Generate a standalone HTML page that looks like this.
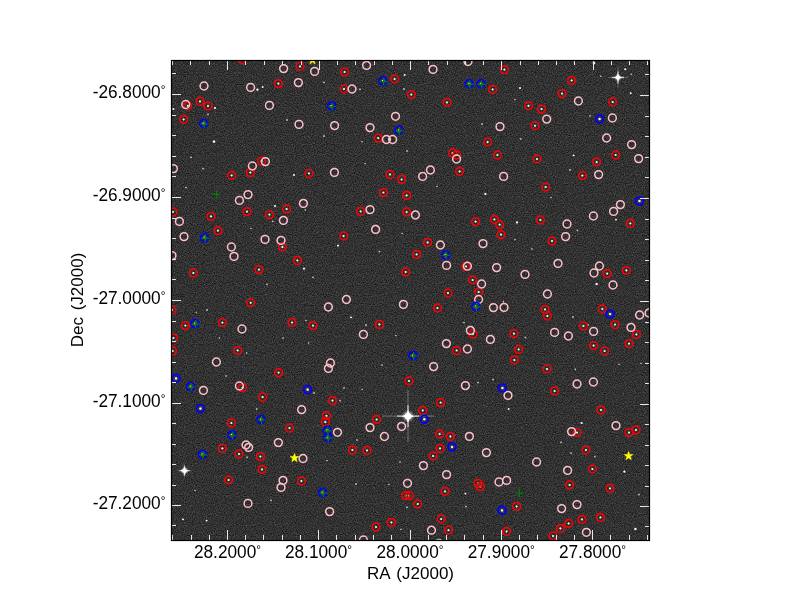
<!DOCTYPE html>
<html><head><meta charset="utf-8"><style>
html,body{margin:0;padding:0;background:#fff;width:800px;height:600px;overflow:hidden}
svg{display:block}
</style></head><body>
<svg width="800" height="600" viewBox="0 0 800 600">
<defs>
<clipPath id="ax"><rect x="171" y="60" width="479" height="480"/></clipPath>
<radialGradient id="sg"><stop offset="0" stop-color="#fff" stop-opacity="1"/><stop offset="0.45" stop-color="#fff" stop-opacity="0.75"/><stop offset="1" stop-color="#fff" stop-opacity="0"/></radialGradient>
<filter id="nz" x="0" y="0" width="100%" height="100%" color-interpolation-filters="sRGB">
<feTurbulence type="fractalNoise" baseFrequency="0.9" numOctaves="2" seed="7"/>
<feColorMatrix type="matrix" values="0.3729 0 0 0 0.0096  0.3729 0 0 0 0.0096  0.3729 0 0 0 0.0096  0 0 0 0 1"/>
</filter>
</defs>
<rect width="800" height="600" fill="#fff"/>
<rect x="171" y="60" width="479" height="480" fill="#333" filter="url(#nz)"/>
<g clip-path="url(#ax)">
<circle cx="214.0" cy="141.6" r="1.90" fill="url(#sg)" opacity="1.00"/><circle cx="214.0" cy="141.6" r="0.90" fill="#fff"/><circle cx="257.4" cy="89.6" r="1.68" fill="url(#sg)" opacity="0.90"/><circle cx="257.4" cy="89.6" r="0.81" fill="#fff"/><circle cx="262.6" cy="87.0" r="1.46" fill="url(#sg)" opacity="0.80"/><circle cx="262.6" cy="87.0" r="0.72" fill="#fff"/><circle cx="173.4" cy="109.0" r="1.57" fill="url(#sg)" opacity="0.85"/><circle cx="173.4" cy="109.0" r="0.77" fill="#fff"/><circle cx="215.0" cy="108.0" r="1.57" fill="url(#sg)" opacity="0.85"/><circle cx="215.0" cy="108.0" r="0.77" fill="#fff"/><circle cx="208.0" cy="114.4" r="1.35" fill="url(#sg)" opacity="0.75"/><circle cx="191.0" cy="157.4" r="1.35" fill="url(#sg)" opacity="0.75"/><circle cx="203.0" cy="168.6" r="1.35" fill="url(#sg)" opacity="0.75"/><circle cx="287.0" cy="120.0" r="1.35" fill="url(#sg)" opacity="0.75"/><circle cx="324.0" cy="82.4" r="1.35" fill="url(#sg)" opacity="0.75"/><circle cx="360.0" cy="89.4" r="1.35" fill="url(#sg)" opacity="0.75"/><circle cx="404.6" cy="75.0" r="1.46" fill="url(#sg)" opacity="0.80"/><circle cx="404.6" cy="75.0" r="0.72" fill="#fff"/><circle cx="404.0" cy="89.0" r="1.35" fill="url(#sg)" opacity="0.75"/><circle cx="324.0" cy="136.0" r="1.35" fill="url(#sg)" opacity="0.75"/><circle cx="294.0" cy="175.0" r="1.46" fill="url(#sg)" opacity="0.80"/><circle cx="294.0" cy="175.0" r="0.72" fill="#fff"/><circle cx="407.0" cy="151.0" r="1.35" fill="url(#sg)" opacity="0.75"/><circle cx="365.0" cy="163.6" r="1.24" fill="url(#sg)" opacity="0.70"/><circle cx="362.0" cy="141.6" r="1.24" fill="url(#sg)" opacity="0.70"/><circle cx="520.0" cy="88.0" r="1.46" fill="url(#sg)" opacity="0.80"/><circle cx="520.0" cy="88.0" r="0.72" fill="#fff"/><circle cx="482.0" cy="124.0" r="1.35" fill="url(#sg)" opacity="0.75"/><circle cx="520.6" cy="139.0" r="1.35" fill="url(#sg)" opacity="0.75"/><circle cx="515.0" cy="99.6" r="1.24" fill="url(#sg)" opacity="0.70"/><circle cx="594.0" cy="63.0" r="1.90" fill="url(#sg)" opacity="1.00"/><circle cx="594.0" cy="63.0" r="0.90" fill="#fff"/><circle cx="625.3" cy="69.3" r="1.57" fill="url(#sg)" opacity="0.85"/><circle cx="625.3" cy="69.3" r="0.77" fill="#fff"/><circle cx="630.7" cy="93.3" r="1.46" fill="url(#sg)" opacity="0.80"/><circle cx="630.7" cy="93.3" r="0.72" fill="#fff"/><circle cx="631.3" cy="74.3" r="1.24" fill="url(#sg)" opacity="0.70"/><circle cx="600.7" cy="76.3" r="1.24" fill="url(#sg)" opacity="0.70"/><circle cx="573.6" cy="155.4" r="1.46" fill="url(#sg)" opacity="0.80"/><circle cx="573.6" cy="155.4" r="0.72" fill="#fff"/><circle cx="570.0" cy="170.0" r="1.35" fill="url(#sg)" opacity="0.75"/><circle cx="590.0" cy="116.0" r="1.24" fill="url(#sg)" opacity="0.70"/><circle cx="186.0" cy="187.6" r="1.35" fill="url(#sg)" opacity="0.75"/><circle cx="275.0" cy="206.0" r="1.57" fill="url(#sg)" opacity="0.85"/><circle cx="275.0" cy="206.0" r="0.77" fill="#fff"/><circle cx="272.6" cy="221.4" r="1.35" fill="url(#sg)" opacity="0.75"/><circle cx="267.0" cy="284.4" r="1.35" fill="url(#sg)" opacity="0.75"/><circle cx="251.0" cy="228.4" r="1.24" fill="url(#sg)" opacity="0.70"/><circle cx="338.0" cy="245.6" r="1.57" fill="url(#sg)" opacity="0.85"/><circle cx="338.0" cy="245.6" r="0.77" fill="#fff"/><circle cx="304.0" cy="268.6" r="1.57" fill="url(#sg)" opacity="0.85"/><circle cx="304.0" cy="268.6" r="0.77" fill="#fff"/><circle cx="379.4" cy="251.6" r="1.35" fill="url(#sg)" opacity="0.75"/><circle cx="313.0" cy="277.4" r="1.35" fill="url(#sg)" opacity="0.75"/><circle cx="402.0" cy="233.4" r="1.24" fill="url(#sg)" opacity="0.70"/><circle cx="305.4" cy="210.0" r="1.24" fill="url(#sg)" opacity="0.70"/><circle cx="485.4" cy="194.0" r="1.68" fill="url(#sg)" opacity="0.90"/><circle cx="485.4" cy="194.0" r="0.81" fill="#fff"/><circle cx="517.0" cy="222.4" r="1.68" fill="url(#sg)" opacity="0.90"/><circle cx="517.0" cy="222.4" r="0.81" fill="#fff"/><circle cx="437.0" cy="186.4" r="1.24" fill="url(#sg)" opacity="0.70"/><circle cx="515.0" cy="239.6" r="1.24" fill="url(#sg)" opacity="0.70"/><circle cx="596.6" cy="284.0" r="1.79" fill="url(#sg)" opacity="0.95"/><circle cx="596.6" cy="284.0" r="0.85" fill="#fff"/><circle cx="616.0" cy="219.6" r="1.46" fill="url(#sg)" opacity="0.80"/><circle cx="616.0" cy="219.6" r="0.72" fill="#fff"/><circle cx="577.4" cy="230.4" r="1.35" fill="url(#sg)" opacity="0.75"/><circle cx="551.0" cy="197.6" r="1.24" fill="url(#sg)" opacity="0.70"/><circle cx="532.0" cy="249.0" r="1.24" fill="url(#sg)" opacity="0.70"/><circle cx="207.0" cy="310.0" r="1.35" fill="url(#sg)" opacity="0.75"/><circle cx="196.4" cy="312.4" r="1.24" fill="url(#sg)" opacity="0.70"/><circle cx="219.4" cy="338.0" r="1.24" fill="url(#sg)" opacity="0.70"/><circle cx="226.0" cy="376.0" r="1.24" fill="url(#sg)" opacity="0.70"/><circle cx="256.6" cy="409.0" r="1.35" fill="url(#sg)" opacity="0.75"/><circle cx="283.0" cy="338.0" r="1.24" fill="url(#sg)" opacity="0.70"/><circle cx="246.6" cy="353.0" r="1.24" fill="url(#sg)" opacity="0.70"/><circle cx="351.0" cy="317.4" r="1.46" fill="url(#sg)" opacity="0.80"/><circle cx="351.0" cy="317.4" r="0.72" fill="#fff"/><circle cx="366.0" cy="325.0" r="1.35" fill="url(#sg)" opacity="0.75"/><circle cx="306.0" cy="320.6" r="1.24" fill="url(#sg)" opacity="0.70"/><circle cx="308.6" cy="343.0" r="1.24" fill="url(#sg)" opacity="0.70"/><circle cx="396.0" cy="335.6" r="1.24" fill="url(#sg)" opacity="0.70"/><circle cx="382.0" cy="365.0" r="1.24" fill="url(#sg)" opacity="0.70"/><circle cx="314.0" cy="393.0" r="1.35" fill="url(#sg)" opacity="0.75"/><circle cx="340.0" cy="400.6" r="1.35" fill="url(#sg)" opacity="0.75"/><circle cx="344.0" cy="388.0" r="1.24" fill="url(#sg)" opacity="0.70"/><circle cx="362.0" cy="389.4" r="1.24" fill="url(#sg)" opacity="0.70"/><circle cx="464.0" cy="322.6" r="1.35" fill="url(#sg)" opacity="0.75"/><circle cx="525.4" cy="337.6" r="1.35" fill="url(#sg)" opacity="0.75"/><circle cx="493.0" cy="379.6" r="1.35" fill="url(#sg)" opacity="0.75"/><circle cx="478.0" cy="382.6" r="1.35" fill="url(#sg)" opacity="0.75"/><circle cx="508.6" cy="409.0" r="1.46" fill="url(#sg)" opacity="0.80"/><circle cx="508.6" cy="409.0" r="0.72" fill="#fff"/><circle cx="503.4" cy="301.6" r="1.35" fill="url(#sg)" opacity="0.75"/><circle cx="573.0" cy="317.0" r="1.35" fill="url(#sg)" opacity="0.75"/><circle cx="588.0" cy="325.0" r="1.35" fill="url(#sg)" opacity="0.75"/><circle cx="575.4" cy="369.4" r="1.35" fill="url(#sg)" opacity="0.75"/><circle cx="619.0" cy="364.4" r="1.24" fill="url(#sg)" opacity="0.70"/><circle cx="641.0" cy="363.4" r="1.24" fill="url(#sg)" opacity="0.70"/><circle cx="183.0" cy="519.4" r="1.46" fill="url(#sg)" opacity="0.80"/><circle cx="183.0" cy="519.4" r="0.72" fill="#fff"/><circle cx="206.6" cy="520.6" r="1.46" fill="url(#sg)" opacity="0.80"/><circle cx="206.6" cy="520.6" r="0.72" fill="#fff"/><circle cx="247.0" cy="457.4" r="1.35" fill="url(#sg)" opacity="0.75"/><circle cx="271.0" cy="500.4" r="1.35" fill="url(#sg)" opacity="0.75"/><circle cx="195.0" cy="490.4" r="1.24" fill="url(#sg)" opacity="0.70"/><circle cx="356.0" cy="484.0" r="1.35" fill="url(#sg)" opacity="0.75"/><circle cx="357.0" cy="440.0" r="1.24" fill="url(#sg)" opacity="0.70"/><circle cx="400.0" cy="462.0" r="1.24" fill="url(#sg)" opacity="0.70"/><circle cx="407.0" cy="507.4" r="1.35" fill="url(#sg)" opacity="0.75"/><circle cx="401.0" cy="529.4" r="1.24" fill="url(#sg)" opacity="0.70"/><circle cx="327.0" cy="460.6" r="1.24" fill="url(#sg)" opacity="0.70"/><circle cx="389.0" cy="484.4" r="1.24" fill="url(#sg)" opacity="0.70"/><circle cx="465.4" cy="493.6" r="1.46" fill="url(#sg)" opacity="0.80"/><circle cx="465.4" cy="493.6" r="0.72" fill="#fff"/><circle cx="466.0" cy="506.6" r="1.35" fill="url(#sg)" opacity="0.75"/><circle cx="581.6" cy="423.0" r="1.57" fill="url(#sg)" opacity="0.85"/><circle cx="581.6" cy="423.0" r="0.77" fill="#fff"/><circle cx="624.4" cy="471.6" r="1.68" fill="url(#sg)" opacity="0.90"/><circle cx="624.4" cy="471.6" r="0.81" fill="#fff"/><circle cx="635.4" cy="529.0" r="1.79" fill="url(#sg)" opacity="0.95"/><circle cx="635.4" cy="529.0" r="0.85" fill="#fff"/><circle cx="561.0" cy="442.4" r="1.35" fill="url(#sg)" opacity="0.75"/><circle cx="595.0" cy="456.6" r="1.35" fill="url(#sg)" opacity="0.75"/><circle cx="639.0" cy="494.6" r="1.35" fill="url(#sg)" opacity="0.75"/><circle cx="571.0" cy="453.0" r="1.24" fill="url(#sg)" opacity="0.70"/><circle cx="242.0" cy="59.5" r="1.57" fill="url(#sg)" opacity="0.85"/><circle cx="242.0" cy="59.5" r="0.77" fill="#fff"/><circle cx="278.4" cy="83.6" r="1.57" fill="url(#sg)" opacity="0.85"/><circle cx="278.4" cy="83.6" r="0.77" fill="#fff"/><circle cx="200.0" cy="101.4" r="1.57" fill="url(#sg)" opacity="0.85"/><circle cx="200.0" cy="101.4" r="0.77" fill="#fff"/><circle cx="187.75" cy="105.75" r="1.57" fill="url(#sg)" opacity="0.85"/><circle cx="187.75" cy="105.75" r="0.77" fill="#fff"/><circle cx="208.0" cy="106.0" r="1.57" fill="url(#sg)" opacity="0.85"/><circle cx="208.0" cy="106.0" r="0.77" fill="#fff"/><circle cx="183.6" cy="119.4" r="1.57" fill="url(#sg)" opacity="0.85"/><circle cx="183.6" cy="119.4" r="0.77" fill="#fff"/><circle cx="203.6" cy="123.5" r="1.79" fill="url(#sg)" opacity="0.95"/><circle cx="203.6" cy="123.5" r="0.85" fill="#fff"/><circle cx="261.6" cy="161.0" r="1.57" fill="url(#sg)" opacity="0.85"/><circle cx="261.6" cy="161.0" r="0.77" fill="#fff"/><circle cx="250.4" cy="172.6" r="1.57" fill="url(#sg)" opacity="0.85"/><circle cx="250.4" cy="172.6" r="0.77" fill="#fff"/><circle cx="231.6" cy="175.4" r="1.57" fill="url(#sg)" opacity="0.85"/><circle cx="231.6" cy="175.4" r="0.77" fill="#fff"/><circle cx="300.0" cy="66.4" r="1.57" fill="url(#sg)" opacity="0.85"/><circle cx="300.0" cy="66.4" r="0.77" fill="#fff"/><circle cx="344.6" cy="72.0" r="1.57" fill="url(#sg)" opacity="0.85"/><circle cx="344.6" cy="72.0" r="0.77" fill="#fff"/><circle cx="383.0" cy="81.0" r="1.79" fill="url(#sg)" opacity="0.95"/><circle cx="383.0" cy="81.0" r="0.85" fill="#fff"/><circle cx="394.6" cy="79.0" r="1.57" fill="url(#sg)" opacity="0.85"/><circle cx="394.6" cy="79.0" r="0.77" fill="#fff"/><circle cx="344.0" cy="89.0" r="1.57" fill="url(#sg)" opacity="0.85"/><circle cx="344.0" cy="89.0" r="0.77" fill="#fff"/><circle cx="411.3" cy="94.5" r="1.57" fill="url(#sg)" opacity="0.85"/><circle cx="411.3" cy="94.5" r="0.77" fill="#fff"/><circle cx="331.6" cy="106.0" r="1.79" fill="url(#sg)" opacity="0.95"/><circle cx="331.6" cy="106.0" r="0.85" fill="#fff"/><circle cx="398.9" cy="130.4" r="1.79" fill="url(#sg)" opacity="0.95"/><circle cx="398.9" cy="130.4" r="0.85" fill="#fff"/><circle cx="378.25" cy="138.1" r="1.57" fill="url(#sg)" opacity="0.85"/><circle cx="378.25" cy="138.1" r="0.77" fill="#fff"/><circle cx="309.0" cy="173.4" r="1.57" fill="url(#sg)" opacity="0.85"/><circle cx="309.0" cy="173.4" r="0.77" fill="#fff"/><circle cx="390.0" cy="174.4" r="1.57" fill="url(#sg)" opacity="0.85"/><circle cx="390.0" cy="174.4" r="0.77" fill="#fff"/><circle cx="401.6" cy="179.5" r="1.57" fill="url(#sg)" opacity="0.85"/><circle cx="401.6" cy="179.5" r="0.77" fill="#fff"/><circle cx="504.4" cy="69.6" r="1.57" fill="url(#sg)" opacity="0.85"/><circle cx="504.4" cy="69.6" r="0.77" fill="#fff"/><circle cx="469.3" cy="83.8" r="1.79" fill="url(#sg)" opacity="0.95"/><circle cx="469.3" cy="83.8" r="0.85" fill="#fff"/><circle cx="481.0" cy="83.8" r="1.79" fill="url(#sg)" opacity="0.95"/><circle cx="481.0" cy="83.8" r="0.85" fill="#fff"/><circle cx="492.6" cy="89.4" r="1.57" fill="url(#sg)" opacity="0.85"/><circle cx="492.6" cy="89.4" r="0.77" fill="#fff"/><circle cx="447.0" cy="102.4" r="1.57" fill="url(#sg)" opacity="0.85"/><circle cx="447.0" cy="102.4" r="0.77" fill="#fff"/><circle cx="528.5" cy="105.8" r="1.57" fill="url(#sg)" opacity="0.85"/><circle cx="528.5" cy="105.8" r="0.77" fill="#fff"/><circle cx="487.6" cy="142.0" r="1.57" fill="url(#sg)" opacity="0.85"/><circle cx="487.6" cy="142.0" r="0.77" fill="#fff"/><circle cx="452.6" cy="153.0" r="1.57" fill="url(#sg)" opacity="0.85"/><circle cx="452.6" cy="153.0" r="0.77" fill="#fff"/><circle cx="456.6" cy="155.0" r="1.57" fill="url(#sg)" opacity="0.85"/><circle cx="456.6" cy="155.0" r="0.77" fill="#fff"/><circle cx="497.4" cy="155.0" r="1.57" fill="url(#sg)" opacity="0.85"/><circle cx="497.4" cy="155.0" r="0.77" fill="#fff"/><circle cx="459.6" cy="171.4" r="1.57" fill="url(#sg)" opacity="0.85"/><circle cx="459.6" cy="171.4" r="0.77" fill="#fff"/><circle cx="571.6" cy="80.4" r="1.57" fill="url(#sg)" opacity="0.85"/><circle cx="571.6" cy="80.4" r="0.77" fill="#fff"/><circle cx="562.0" cy="93.6" r="1.57" fill="url(#sg)" opacity="0.85"/><circle cx="562.0" cy="93.6" r="0.77" fill="#fff"/><circle cx="612.6" cy="102.0" r="1.57" fill="url(#sg)" opacity="0.85"/><circle cx="612.6" cy="102.0" r="0.77" fill="#fff"/><circle cx="541.5" cy="109.1" r="1.57" fill="url(#sg)" opacity="0.85"/><circle cx="541.5" cy="109.1" r="0.77" fill="#fff"/><circle cx="535.0" cy="125.7" r="1.57" fill="url(#sg)" opacity="0.85"/><circle cx="535.0" cy="125.7" r="0.77" fill="#fff"/><circle cx="599.6" cy="119.0" r="1.79" fill="url(#sg)" opacity="0.95"/><circle cx="599.6" cy="119.0" r="0.85" fill="#fff"/><circle cx="615.6" cy="155.0" r="1.57" fill="url(#sg)" opacity="0.85"/><circle cx="615.6" cy="155.0" r="0.77" fill="#fff"/><circle cx="537.0" cy="159.0" r="1.57" fill="url(#sg)" opacity="0.85"/><circle cx="537.0" cy="159.0" r="0.77" fill="#fff"/><circle cx="596.6" cy="162.0" r="1.57" fill="url(#sg)" opacity="0.85"/><circle cx="596.6" cy="162.0" r="0.77" fill="#fff"/><circle cx="582.4" cy="175.6" r="1.57" fill="url(#sg)" opacity="0.85"/><circle cx="582.4" cy="175.6" r="0.77" fill="#fff"/><circle cx="173.0" cy="212.0" r="1.57" fill="url(#sg)" opacity="0.85"/><circle cx="173.0" cy="212.0" r="0.77" fill="#fff"/><circle cx="211.0" cy="216.4" r="1.57" fill="url(#sg)" opacity="0.85"/><circle cx="211.0" cy="216.4" r="0.77" fill="#fff"/><circle cx="247.0" cy="211.6" r="1.57" fill="url(#sg)" opacity="0.85"/><circle cx="247.0" cy="211.6" r="0.77" fill="#fff"/><circle cx="269.4" cy="214.6" r="1.57" fill="url(#sg)" opacity="0.85"/><circle cx="269.4" cy="214.6" r="0.77" fill="#fff"/><circle cx="286.6" cy="209.0" r="1.57" fill="url(#sg)" opacity="0.85"/><circle cx="286.6" cy="209.0" r="0.77" fill="#fff"/><circle cx="218.0" cy="230.6" r="1.57" fill="url(#sg)" opacity="0.85"/><circle cx="218.0" cy="230.6" r="0.77" fill="#fff"/><circle cx="204.6" cy="237.6" r="1.79" fill="url(#sg)" opacity="0.95"/><circle cx="204.6" cy="237.6" r="0.85" fill="#fff"/><circle cx="282.4" cy="247.0" r="1.57" fill="url(#sg)" opacity="0.85"/><circle cx="282.4" cy="247.0" r="0.77" fill="#fff"/><circle cx="259.0" cy="269.6" r="1.57" fill="url(#sg)" opacity="0.85"/><circle cx="259.0" cy="269.6" r="0.77" fill="#fff"/><circle cx="193.4" cy="273.0" r="1.57" fill="url(#sg)" opacity="0.85"/><circle cx="193.4" cy="273.0" r="0.77" fill="#fff"/><circle cx="383.4" cy="192.6" r="1.57" fill="url(#sg)" opacity="0.85"/><circle cx="383.4" cy="192.6" r="0.77" fill="#fff"/><circle cx="406.6" cy="195.4" r="1.57" fill="url(#sg)" opacity="0.85"/><circle cx="406.6" cy="195.4" r="0.77" fill="#fff"/><circle cx="360.6" cy="211.4" r="1.57" fill="url(#sg)" opacity="0.85"/><circle cx="360.6" cy="211.4" r="0.77" fill="#fff"/><circle cx="406.6" cy="212.0" r="1.57" fill="url(#sg)" opacity="0.85"/><circle cx="406.6" cy="212.0" r="0.77" fill="#fff"/><circle cx="343.6" cy="236.0" r="1.57" fill="url(#sg)" opacity="0.85"/><circle cx="343.6" cy="236.0" r="0.77" fill="#fff"/><circle cx="297.4" cy="260.4" r="1.57" fill="url(#sg)" opacity="0.85"/><circle cx="297.4" cy="260.4" r="0.77" fill="#fff"/><circle cx="405.6" cy="272.0" r="1.57" fill="url(#sg)" opacity="0.85"/><circle cx="405.6" cy="272.0" r="0.77" fill="#fff"/><circle cx="475.6" cy="221.6" r="1.57" fill="url(#sg)" opacity="0.85"/><circle cx="475.6" cy="221.6" r="0.77" fill="#fff"/><circle cx="494.4" cy="219.4" r="1.57" fill="url(#sg)" opacity="0.85"/><circle cx="494.4" cy="219.4" r="0.77" fill="#fff"/><circle cx="499.6" cy="224.6" r="1.57" fill="url(#sg)" opacity="0.85"/><circle cx="499.6" cy="224.6" r="0.77" fill="#fff"/><circle cx="501.0" cy="234.6" r="1.57" fill="url(#sg)" opacity="0.85"/><circle cx="501.0" cy="234.6" r="0.77" fill="#fff"/><circle cx="427.6" cy="242.4" r="1.57" fill="url(#sg)" opacity="0.85"/><circle cx="427.6" cy="242.4" r="0.77" fill="#fff"/><circle cx="416.6" cy="254.4" r="1.57" fill="url(#sg)" opacity="0.85"/><circle cx="416.6" cy="254.4" r="0.77" fill="#fff"/><circle cx="445.6" cy="255.0" r="1.79" fill="url(#sg)" opacity="0.95"/><circle cx="445.6" cy="255.0" r="0.85" fill="#fff"/><circle cx="466.0" cy="266.4" r="1.57" fill="url(#sg)" opacity="0.85"/><circle cx="466.0" cy="266.4" r="0.77" fill="#fff"/><circle cx="472.6" cy="280.0" r="1.57" fill="url(#sg)" opacity="0.85"/><circle cx="472.6" cy="280.0" r="0.77" fill="#fff"/><circle cx="448.0" cy="293.0" r="1.57" fill="url(#sg)" opacity="0.85"/><circle cx="448.0" cy="293.0" r="0.77" fill="#fff"/><circle cx="478.6" cy="292.0" r="1.57" fill="url(#sg)" opacity="0.85"/><circle cx="478.6" cy="292.0" r="0.77" fill="#fff"/><circle cx="545.6" cy="187.0" r="1.57" fill="url(#sg)" opacity="0.85"/><circle cx="545.6" cy="187.0" r="0.77" fill="#fff"/><circle cx="639.5" cy="201.0" r="1.79" fill="url(#sg)" opacity="0.95"/><circle cx="639.5" cy="201.0" r="0.85" fill="#fff"/><circle cx="540.4" cy="220.0" r="1.57" fill="url(#sg)" opacity="0.85"/><circle cx="540.4" cy="220.0" r="0.77" fill="#fff"/><circle cx="630.4" cy="223.4" r="1.57" fill="url(#sg)" opacity="0.85"/><circle cx="630.4" cy="223.4" r="0.77" fill="#fff"/><circle cx="552.0" cy="241.0" r="1.57" fill="url(#sg)" opacity="0.85"/><circle cx="552.0" cy="241.0" r="0.77" fill="#fff"/><circle cx="607.2" cy="273.6" r="1.57" fill="url(#sg)" opacity="0.85"/><circle cx="607.2" cy="273.6" r="0.77" fill="#fff"/><circle cx="626.4" cy="270.4" r="1.57" fill="url(#sg)" opacity="0.85"/><circle cx="626.4" cy="270.4" r="0.77" fill="#fff"/><circle cx="250.7" cy="302.7" r="1.57" fill="url(#sg)" opacity="0.85"/><circle cx="250.7" cy="302.7" r="0.77" fill="#fff"/><circle cx="172.0" cy="310.0" r="1.57" fill="url(#sg)" opacity="0.85"/><circle cx="172.0" cy="310.0" r="0.77" fill="#fff"/><circle cx="195.0" cy="323.6" r="1.79" fill="url(#sg)" opacity="0.95"/><circle cx="195.0" cy="323.6" r="0.85" fill="#fff"/><circle cx="185.4" cy="325.6" r="1.57" fill="url(#sg)" opacity="0.85"/><circle cx="185.4" cy="325.6" r="0.77" fill="#fff"/><circle cx="222.4" cy="322.6" r="1.57" fill="url(#sg)" opacity="0.85"/><circle cx="222.4" cy="322.6" r="0.77" fill="#fff"/><circle cx="292.0" cy="322.5" r="1.57" fill="url(#sg)" opacity="0.85"/><circle cx="292.0" cy="322.5" r="0.77" fill="#fff"/><circle cx="173.4" cy="338.0" r="1.57" fill="url(#sg)" opacity="0.85"/><circle cx="173.4" cy="338.0" r="0.77" fill="#fff"/><circle cx="172.6" cy="351.0" r="1.57" fill="url(#sg)" opacity="0.85"/><circle cx="172.6" cy="351.0" r="0.77" fill="#fff"/><circle cx="237.6" cy="350.4" r="1.57" fill="url(#sg)" opacity="0.85"/><circle cx="237.6" cy="350.4" r="0.77" fill="#fff"/><circle cx="278.6" cy="372.6" r="1.57" fill="url(#sg)" opacity="0.85"/><circle cx="278.6" cy="372.6" r="0.77" fill="#fff"/><circle cx="176.0" cy="378.4" r="1.79" fill="url(#sg)" opacity="0.95"/><circle cx="176.0" cy="378.4" r="0.85" fill="#fff"/><circle cx="190.6" cy="386.6" r="1.79" fill="url(#sg)" opacity="0.95"/><circle cx="190.6" cy="386.6" r="0.85" fill="#fff"/><circle cx="242.6" cy="387.6" r="1.57" fill="url(#sg)" opacity="0.85"/><circle cx="242.6" cy="387.6" r="0.77" fill="#fff"/><circle cx="262.6" cy="397.0" r="1.57" fill="url(#sg)" opacity="0.85"/><circle cx="262.6" cy="397.0" r="0.77" fill="#fff"/><circle cx="200.4" cy="408.6" r="1.79" fill="url(#sg)" opacity="0.95"/><circle cx="200.4" cy="408.6" r="0.85" fill="#fff"/><circle cx="261.0" cy="419.5" r="1.79" fill="url(#sg)" opacity="0.95"/><circle cx="261.0" cy="419.5" r="0.85" fill="#fff"/><circle cx="231.4" cy="423.0" r="1.57" fill="url(#sg)" opacity="0.85"/><circle cx="231.4" cy="423.0" r="0.77" fill="#fff"/><circle cx="313.0" cy="325.6" r="1.57" fill="url(#sg)" opacity="0.85"/><circle cx="313.0" cy="325.6" r="0.77" fill="#fff"/><circle cx="379.4" cy="324.4" r="1.57" fill="url(#sg)" opacity="0.85"/><circle cx="379.4" cy="324.4" r="0.77" fill="#fff"/><circle cx="307.6" cy="389.6" r="1.79" fill="url(#sg)" opacity="0.95"/><circle cx="307.6" cy="389.6" r="0.85" fill="#fff"/><circle cx="409.0" cy="381.0" r="1.57" fill="url(#sg)" opacity="0.85"/><circle cx="409.0" cy="381.0" r="0.77" fill="#fff"/><circle cx="332.5" cy="400.5" r="1.57" fill="url(#sg)" opacity="0.85"/><circle cx="332.5" cy="400.5" r="0.77" fill="#fff"/><circle cx="326.5" cy="415.7" r="1.57" fill="url(#sg)" opacity="0.85"/><circle cx="326.5" cy="415.7" r="0.77" fill="#fff"/><circle cx="325.3" cy="422.0" r="1.57" fill="url(#sg)" opacity="0.85"/><circle cx="325.3" cy="422.0" r="0.77" fill="#fff"/><circle cx="376.6" cy="419.5" r="1.57" fill="url(#sg)" opacity="0.85"/><circle cx="376.6" cy="419.5" r="0.77" fill="#fff"/><circle cx="437.4" cy="308.0" r="1.57" fill="url(#sg)" opacity="0.85"/><circle cx="437.4" cy="308.0" r="0.77" fill="#fff"/><circle cx="476.0" cy="306.4" r="1.79" fill="url(#sg)" opacity="0.95"/><circle cx="476.0" cy="306.4" r="0.85" fill="#fff"/><circle cx="473.0" cy="334.0" r="1.57" fill="url(#sg)" opacity="0.85"/><circle cx="473.0" cy="334.0" r="0.77" fill="#fff"/><circle cx="514.0" cy="333.6" r="1.57" fill="url(#sg)" opacity="0.85"/><circle cx="514.0" cy="333.6" r="0.77" fill="#fff"/><circle cx="456.6" cy="350.4" r="1.57" fill="url(#sg)" opacity="0.85"/><circle cx="456.6" cy="350.4" r="0.77" fill="#fff"/><circle cx="518.6" cy="349.4" r="1.57" fill="url(#sg)" opacity="0.85"/><circle cx="518.6" cy="349.4" r="0.77" fill="#fff"/><circle cx="514.4" cy="360.0" r="1.57" fill="url(#sg)" opacity="0.85"/><circle cx="514.4" cy="360.0" r="0.77" fill="#fff"/><circle cx="413.0" cy="355.5" r="1.79" fill="url(#sg)" opacity="0.95"/><circle cx="413.0" cy="355.5" r="0.85" fill="#fff"/><circle cx="502.4" cy="388.0" r="1.79" fill="url(#sg)" opacity="0.95"/><circle cx="502.4" cy="388.0" r="0.85" fill="#fff"/><circle cx="440.6" cy="402.6" r="1.57" fill="url(#sg)" opacity="0.85"/><circle cx="440.6" cy="402.6" r="0.77" fill="#fff"/><circle cx="422.7" cy="410.4" r="1.57" fill="url(#sg)" opacity="0.85"/><circle cx="422.7" cy="410.4" r="0.77" fill="#fff"/><circle cx="424.3" cy="419.3" r="1.79" fill="url(#sg)" opacity="0.95"/><circle cx="424.3" cy="419.3" r="0.85" fill="#fff"/><circle cx="545.0" cy="309.4" r="1.57" fill="url(#sg)" opacity="0.85"/><circle cx="545.0" cy="309.4" r="0.77" fill="#fff"/><circle cx="547.4" cy="316.0" r="1.57" fill="url(#sg)" opacity="0.85"/><circle cx="547.4" cy="316.0" r="0.77" fill="#fff"/><circle cx="602.4" cy="309.0" r="1.57" fill="url(#sg)" opacity="0.85"/><circle cx="602.4" cy="309.0" r="0.77" fill="#fff"/><circle cx="610.0" cy="314.0" r="1.79" fill="url(#sg)" opacity="0.95"/><circle cx="610.0" cy="314.0" r="0.85" fill="#fff"/><circle cx="583.4" cy="326.0" r="1.57" fill="url(#sg)" opacity="0.85"/><circle cx="583.4" cy="326.0" r="0.77" fill="#fff"/><circle cx="615.0" cy="324.6" r="1.57" fill="url(#sg)" opacity="0.85"/><circle cx="615.0" cy="324.6" r="0.77" fill="#fff"/><circle cx="636.4" cy="334.4" r="1.57" fill="url(#sg)" opacity="0.85"/><circle cx="636.4" cy="334.4" r="0.77" fill="#fff"/><circle cx="629.0" cy="343.6" r="1.57" fill="url(#sg)" opacity="0.85"/><circle cx="629.0" cy="343.6" r="0.77" fill="#fff"/><circle cx="593.6" cy="345.6" r="1.57" fill="url(#sg)" opacity="0.85"/><circle cx="593.6" cy="345.6" r="0.77" fill="#fff"/><circle cx="604.6" cy="351.0" r="1.57" fill="url(#sg)" opacity="0.85"/><circle cx="604.6" cy="351.0" r="0.77" fill="#fff"/><circle cx="547.0" cy="369.0" r="1.57" fill="url(#sg)" opacity="0.85"/><circle cx="547.0" cy="369.0" r="0.77" fill="#fff"/><circle cx="554.6" cy="391.0" r="1.57" fill="url(#sg)" opacity="0.85"/><circle cx="554.6" cy="391.0" r="0.77" fill="#fff"/><circle cx="601.0" cy="410.0" r="1.57" fill="url(#sg)" opacity="0.85"/><circle cx="601.0" cy="410.0" r="0.77" fill="#fff"/><circle cx="289.5" cy="428.0" r="1.57" fill="url(#sg)" opacity="0.85"/><circle cx="289.5" cy="428.0" r="0.77" fill="#fff"/><circle cx="232.0" cy="435.0" r="1.79" fill="url(#sg)" opacity="0.95"/><circle cx="232.0" cy="435.0" r="0.85" fill="#fff"/><circle cx="222.4" cy="448.4" r="1.57" fill="url(#sg)" opacity="0.85"/><circle cx="222.4" cy="448.4" r="0.77" fill="#fff"/><circle cx="202.4" cy="454.4" r="1.79" fill="url(#sg)" opacity="0.95"/><circle cx="202.4" cy="454.4" r="0.85" fill="#fff"/><circle cx="239.0" cy="454.0" r="1.57" fill="url(#sg)" opacity="0.85"/><circle cx="239.0" cy="454.0" r="0.77" fill="#fff"/><circle cx="260.4" cy="456.6" r="1.57" fill="url(#sg)" opacity="0.85"/><circle cx="260.4" cy="456.6" r="0.77" fill="#fff"/><circle cx="262.0" cy="469.4" r="1.57" fill="url(#sg)" opacity="0.85"/><circle cx="262.0" cy="469.4" r="0.77" fill="#fff"/><circle cx="228.6" cy="480.0" r="1.57" fill="url(#sg)" opacity="0.85"/><circle cx="228.6" cy="480.0" r="0.77" fill="#fff"/><circle cx="327.3" cy="430.3" r="1.79" fill="url(#sg)" opacity="0.95"/><circle cx="327.3" cy="430.3" r="0.85" fill="#fff"/><circle cx="327.7" cy="437.7" r="1.79" fill="url(#sg)" opacity="0.95"/><circle cx="327.7" cy="437.7" r="0.85" fill="#fff"/><circle cx="352.4" cy="450.0" r="1.57" fill="url(#sg)" opacity="0.85"/><circle cx="352.4" cy="450.0" r="0.77" fill="#fff"/><circle cx="367.0" cy="450.4" r="1.57" fill="url(#sg)" opacity="0.85"/><circle cx="367.0" cy="450.4" r="0.77" fill="#fff"/><circle cx="301.4" cy="481.0" r="1.57" fill="url(#sg)" opacity="0.85"/><circle cx="301.4" cy="481.0" r="0.77" fill="#fff"/><circle cx="322.6" cy="492.6" r="1.79" fill="url(#sg)" opacity="0.95"/><circle cx="322.6" cy="492.6" r="0.85" fill="#fff"/><circle cx="405.7" cy="495.7" r="1.57" fill="url(#sg)" opacity="0.85"/><circle cx="405.7" cy="495.7" r="0.77" fill="#fff"/><circle cx="409.3" cy="495.7" r="1.57" fill="url(#sg)" opacity="0.85"/><circle cx="409.3" cy="495.7" r="0.77" fill="#fff"/><circle cx="417.7" cy="504.0" r="1.57" fill="url(#sg)" opacity="0.85"/><circle cx="417.7" cy="504.0" r="0.77" fill="#fff"/><circle cx="391.4" cy="522.4" r="1.57" fill="url(#sg)" opacity="0.85"/><circle cx="391.4" cy="522.4" r="0.77" fill="#fff"/><circle cx="376.0" cy="527.0" r="1.57" fill="url(#sg)" opacity="0.85"/><circle cx="376.0" cy="527.0" r="0.77" fill="#fff"/><circle cx="439.6" cy="434.0" r="1.57" fill="url(#sg)" opacity="0.85"/><circle cx="439.6" cy="434.0" r="0.77" fill="#fff"/><circle cx="450.4" cy="436.4" r="1.57" fill="url(#sg)" opacity="0.85"/><circle cx="450.4" cy="436.4" r="0.77" fill="#fff"/><circle cx="440.0" cy="448.4" r="1.57" fill="url(#sg)" opacity="0.85"/><circle cx="440.0" cy="448.4" r="0.77" fill="#fff"/><circle cx="452.0" cy="447.0" r="1.79" fill="url(#sg)" opacity="0.95"/><circle cx="452.0" cy="447.0" r="0.85" fill="#fff"/><circle cx="433.0" cy="456.0" r="1.57" fill="url(#sg)" opacity="0.85"/><circle cx="433.0" cy="456.0" r="0.77" fill="#fff"/><circle cx="478.0" cy="483.4" r="1.57" fill="url(#sg)" opacity="0.85"/><circle cx="478.0" cy="483.4" r="0.77" fill="#fff"/><circle cx="480.4" cy="486.6" r="1.57" fill="url(#sg)" opacity="0.85"/><circle cx="480.4" cy="486.6" r="0.77" fill="#fff"/><circle cx="445.0" cy="491.4" r="1.57" fill="url(#sg)" opacity="0.85"/><circle cx="445.0" cy="491.4" r="0.77" fill="#fff"/><circle cx="516.6" cy="506.4" r="1.57" fill="url(#sg)" opacity="0.85"/><circle cx="516.6" cy="506.4" r="0.77" fill="#fff"/><circle cx="502.0" cy="510.4" r="1.79" fill="url(#sg)" opacity="0.95"/><circle cx="502.0" cy="510.4" r="0.85" fill="#fff"/><circle cx="441.2" cy="519.0" r="1.57" fill="url(#sg)" opacity="0.85"/><circle cx="441.2" cy="519.0" r="0.77" fill="#fff"/><circle cx="448.5" cy="530.2" r="1.57" fill="url(#sg)" opacity="0.85"/><circle cx="448.5" cy="530.2" r="0.77" fill="#fff"/><circle cx="506.6" cy="531.4" r="1.57" fill="url(#sg)" opacity="0.85"/><circle cx="506.6" cy="531.4" r="0.77" fill="#fff"/><circle cx="629.0" cy="432.6" r="1.57" fill="url(#sg)" opacity="0.85"/><circle cx="629.0" cy="432.6" r="0.77" fill="#fff"/><circle cx="636.0" cy="430.0" r="1.57" fill="url(#sg)" opacity="0.85"/><circle cx="636.0" cy="430.0" r="0.77" fill="#fff"/><circle cx="577.0" cy="432.6" r="1.57" fill="url(#sg)" opacity="0.85"/><circle cx="577.0" cy="432.6" r="0.77" fill="#fff"/><circle cx="586.0" cy="450.0" r="1.57" fill="url(#sg)" opacity="0.85"/><circle cx="586.0" cy="450.0" r="0.77" fill="#fff"/><circle cx="592.4" cy="469.0" r="1.57" fill="url(#sg)" opacity="0.85"/><circle cx="592.4" cy="469.0" r="0.77" fill="#fff"/><circle cx="569.6" cy="485.0" r="1.57" fill="url(#sg)" opacity="0.85"/><circle cx="569.6" cy="485.0" r="0.77" fill="#fff"/><circle cx="610.0" cy="488.4" r="1.57" fill="url(#sg)" opacity="0.85"/><circle cx="610.0" cy="488.4" r="0.77" fill="#fff"/><circle cx="600.4" cy="517.4" r="1.57" fill="url(#sg)" opacity="0.85"/><circle cx="600.4" cy="517.4" r="0.77" fill="#fff"/><circle cx="582.0" cy="519.4" r="1.57" fill="url(#sg)" opacity="0.85"/><circle cx="582.0" cy="519.4" r="0.77" fill="#fff"/><circle cx="568.6" cy="523.4" r="1.57" fill="url(#sg)" opacity="0.85"/><circle cx="568.6" cy="523.4" r="0.77" fill="#fff"/><circle cx="560.4" cy="528.4" r="1.57" fill="url(#sg)" opacity="0.85"/><circle cx="560.4" cy="528.4" r="0.77" fill="#fff"/><circle cx="553.0" cy="536.0" r="1.57" fill="url(#sg)" opacity="0.85"/><circle cx="553.0" cy="536.0" r="0.77" fill="#fff"/><path d="M382 416.2H434M408 390.2V442.2" stroke="#ccc" stroke-width="1.2" opacity="0.35"/><path d="M397 416.2H419M408 405.2V427.2" stroke="#eee" stroke-width="1.3" opacity="0.75"/><circle cx="408" cy="416.2" r="6.60" fill="url(#sg)" opacity="0.7"/><polygon points="414.00,416.20 409.87,418.07 408.00,422.20 406.13,418.07 402.00,416.20 406.13,414.33 408.00,410.20 409.87,414.33" fill="#fff"/><circle cx="408" cy="416.2" r="3.30" fill="#fff"/><path d="M608 77.5H628M618 67.5V87.5" stroke="#ccc" stroke-width="1.2" opacity="0.3"/><path d="M612 77.5H624M618 71.5V83.5" stroke="#eee" stroke-width="1.3" opacity="0.75"/><circle cx="618" cy="77.5" r="4.00" fill="url(#sg)" opacity="0.7"/><polygon points="622.00,77.50 619.13,78.63 618.00,81.50 616.87,78.63 614.00,77.50 616.87,76.37 618.00,73.50 619.13,76.37" fill="#fff"/><circle cx="618" cy="77.5" r="2.00" fill="#fff"/><path d="M177.5 470.7H191.5M184.5 463.7V477.7" stroke="#ccc" stroke-width="1.2" opacity="0.25"/><path d="M179.5 470.7H189.5M184.5 465.7V475.7" stroke="#eee" stroke-width="1.3" opacity="0.75"/><circle cx="184.5" cy="470.7" r="4.20" fill="url(#sg)" opacity="0.7"/><polygon points="188.50,470.70 185.69,471.89 184.50,474.70 183.31,471.89 180.50,470.70 183.31,469.51 184.50,466.70 185.69,469.51" fill="#fff"/><circle cx="184.5" cy="470.7" r="2.10" fill="#fff"/><path d="M238.10 59.5a3.9 3.9 0 1 0 7.8 0a3.9 3.9 0 1 0 -7.8 0M274.50 83.6a3.9 3.9 0 1 0 7.8 0a3.9 3.9 0 1 0 -7.8 0M196.10 101.4a3.9 3.9 0 1 0 7.8 0a3.9 3.9 0 1 0 -7.8 0M183.85 105.75a3.9 3.9 0 1 0 7.8 0a3.9 3.9 0 1 0 -7.8 0M204.10 106.0a3.9 3.9 0 1 0 7.8 0a3.9 3.9 0 1 0 -7.8 0M179.70 119.4a3.9 3.9 0 1 0 7.8 0a3.9 3.9 0 1 0 -7.8 0M257.70 161.0a3.9 3.9 0 1 0 7.8 0a3.9 3.9 0 1 0 -7.8 0M246.50 172.6a3.9 3.9 0 1 0 7.8 0a3.9 3.9 0 1 0 -7.8 0M227.70 175.4a3.9 3.9 0 1 0 7.8 0a3.9 3.9 0 1 0 -7.8 0M296.10 66.4a3.9 3.9 0 1 0 7.8 0a3.9 3.9 0 1 0 -7.8 0M340.70 72.0a3.9 3.9 0 1 0 7.8 0a3.9 3.9 0 1 0 -7.8 0M390.70 79.0a3.9 3.9 0 1 0 7.8 0a3.9 3.9 0 1 0 -7.8 0M340.10 89.0a3.9 3.9 0 1 0 7.8 0a3.9 3.9 0 1 0 -7.8 0M407.40 94.5a3.9 3.9 0 1 0 7.8 0a3.9 3.9 0 1 0 -7.8 0M374.35 138.1a3.9 3.9 0 1 0 7.8 0a3.9 3.9 0 1 0 -7.8 0M305.10 173.4a3.9 3.9 0 1 0 7.8 0a3.9 3.9 0 1 0 -7.8 0M386.10 174.4a3.9 3.9 0 1 0 7.8 0a3.9 3.9 0 1 0 -7.8 0M397.70 179.5a3.9 3.9 0 1 0 7.8 0a3.9 3.9 0 1 0 -7.8 0M500.50 69.6a3.9 3.9 0 1 0 7.8 0a3.9 3.9 0 1 0 -7.8 0M488.70 89.4a3.9 3.9 0 1 0 7.8 0a3.9 3.9 0 1 0 -7.8 0M443.10 102.4a3.9 3.9 0 1 0 7.8 0a3.9 3.9 0 1 0 -7.8 0M524.60 105.8a3.9 3.9 0 1 0 7.8 0a3.9 3.9 0 1 0 -7.8 0M483.70 142.0a3.9 3.9 0 1 0 7.8 0a3.9 3.9 0 1 0 -7.8 0M448.70 153.0a3.9 3.9 0 1 0 7.8 0a3.9 3.9 0 1 0 -7.8 0M452.70 155.0a3.9 3.9 0 1 0 7.8 0a3.9 3.9 0 1 0 -7.8 0M493.50 155.0a3.9 3.9 0 1 0 7.8 0a3.9 3.9 0 1 0 -7.8 0M455.70 171.4a3.9 3.9 0 1 0 7.8 0a3.9 3.9 0 1 0 -7.8 0M567.70 80.4a3.9 3.9 0 1 0 7.8 0a3.9 3.9 0 1 0 -7.8 0M558.10 93.6a3.9 3.9 0 1 0 7.8 0a3.9 3.9 0 1 0 -7.8 0M608.70 102.0a3.9 3.9 0 1 0 7.8 0a3.9 3.9 0 1 0 -7.8 0M537.60 109.1a3.9 3.9 0 1 0 7.8 0a3.9 3.9 0 1 0 -7.8 0M531.10 125.7a3.9 3.9 0 1 0 7.8 0a3.9 3.9 0 1 0 -7.8 0M611.70 155.0a3.9 3.9 0 1 0 7.8 0a3.9 3.9 0 1 0 -7.8 0M533.10 159.0a3.9 3.9 0 1 0 7.8 0a3.9 3.9 0 1 0 -7.8 0M592.70 162.0a3.9 3.9 0 1 0 7.8 0a3.9 3.9 0 1 0 -7.8 0M578.50 175.6a3.9 3.9 0 1 0 7.8 0a3.9 3.9 0 1 0 -7.8 0M169.10 212.0a3.9 3.9 0 1 0 7.8 0a3.9 3.9 0 1 0 -7.8 0M207.10 216.4a3.9 3.9 0 1 0 7.8 0a3.9 3.9 0 1 0 -7.8 0M243.10 211.6a3.9 3.9 0 1 0 7.8 0a3.9 3.9 0 1 0 -7.8 0M265.50 214.6a3.9 3.9 0 1 0 7.8 0a3.9 3.9 0 1 0 -7.8 0M282.70 209.0a3.9 3.9 0 1 0 7.8 0a3.9 3.9 0 1 0 -7.8 0M214.10 230.6a3.9 3.9 0 1 0 7.8 0a3.9 3.9 0 1 0 -7.8 0M278.50 247.0a3.9 3.9 0 1 0 7.8 0a3.9 3.9 0 1 0 -7.8 0M255.10 269.6a3.9 3.9 0 1 0 7.8 0a3.9 3.9 0 1 0 -7.8 0M189.50 273.0a3.9 3.9 0 1 0 7.8 0a3.9 3.9 0 1 0 -7.8 0M379.50 192.6a3.9 3.9 0 1 0 7.8 0a3.9 3.9 0 1 0 -7.8 0M402.70 195.4a3.9 3.9 0 1 0 7.8 0a3.9 3.9 0 1 0 -7.8 0M356.70 211.4a3.9 3.9 0 1 0 7.8 0a3.9 3.9 0 1 0 -7.8 0M402.70 212.0a3.9 3.9 0 1 0 7.8 0a3.9 3.9 0 1 0 -7.8 0M339.70 236.0a3.9 3.9 0 1 0 7.8 0a3.9 3.9 0 1 0 -7.8 0M293.50 260.4a3.9 3.9 0 1 0 7.8 0a3.9 3.9 0 1 0 -7.8 0M401.70 272.0a3.9 3.9 0 1 0 7.8 0a3.9 3.9 0 1 0 -7.8 0M471.70 221.6a3.9 3.9 0 1 0 7.8 0a3.9 3.9 0 1 0 -7.8 0M490.50 219.4a3.9 3.9 0 1 0 7.8 0a3.9 3.9 0 1 0 -7.8 0M495.70 224.6a3.9 3.9 0 1 0 7.8 0a3.9 3.9 0 1 0 -7.8 0M497.10 234.6a3.9 3.9 0 1 0 7.8 0a3.9 3.9 0 1 0 -7.8 0M423.70 242.4a3.9 3.9 0 1 0 7.8 0a3.9 3.9 0 1 0 -7.8 0M412.70 254.4a3.9 3.9 0 1 0 7.8 0a3.9 3.9 0 1 0 -7.8 0M462.10 266.4a3.9 3.9 0 1 0 7.8 0a3.9 3.9 0 1 0 -7.8 0M468.70 280.0a3.9 3.9 0 1 0 7.8 0a3.9 3.9 0 1 0 -7.8 0M444.10 293.0a3.9 3.9 0 1 0 7.8 0a3.9 3.9 0 1 0 -7.8 0M474.70 292.0a3.9 3.9 0 1 0 7.8 0a3.9 3.9 0 1 0 -7.8 0M541.70 187.0a3.9 3.9 0 1 0 7.8 0a3.9 3.9 0 1 0 -7.8 0M536.50 220.0a3.9 3.9 0 1 0 7.8 0a3.9 3.9 0 1 0 -7.8 0M626.50 223.4a3.9 3.9 0 1 0 7.8 0a3.9 3.9 0 1 0 -7.8 0M548.10 241.0a3.9 3.9 0 1 0 7.8 0a3.9 3.9 0 1 0 -7.8 0M603.30 273.6a3.9 3.9 0 1 0 7.8 0a3.9 3.9 0 1 0 -7.8 0M622.50 270.4a3.9 3.9 0 1 0 7.8 0a3.9 3.9 0 1 0 -7.8 0M246.80 302.7a3.9 3.9 0 1 0 7.8 0a3.9 3.9 0 1 0 -7.8 0M168.10 310.0a3.9 3.9 0 1 0 7.8 0a3.9 3.9 0 1 0 -7.8 0M181.50 325.6a3.9 3.9 0 1 0 7.8 0a3.9 3.9 0 1 0 -7.8 0M218.50 322.6a3.9 3.9 0 1 0 7.8 0a3.9 3.9 0 1 0 -7.8 0M288.10 322.5a3.9 3.9 0 1 0 7.8 0a3.9 3.9 0 1 0 -7.8 0M169.50 338.0a3.9 3.9 0 1 0 7.8 0a3.9 3.9 0 1 0 -7.8 0M168.70 351.0a3.9 3.9 0 1 0 7.8 0a3.9 3.9 0 1 0 -7.8 0M233.70 350.4a3.9 3.9 0 1 0 7.8 0a3.9 3.9 0 1 0 -7.8 0M274.70 372.6a3.9 3.9 0 1 0 7.8 0a3.9 3.9 0 1 0 -7.8 0M238.70 387.6a3.9 3.9 0 1 0 7.8 0a3.9 3.9 0 1 0 -7.8 0M258.70 397.0a3.9 3.9 0 1 0 7.8 0a3.9 3.9 0 1 0 -7.8 0M227.50 423.0a3.9 3.9 0 1 0 7.8 0a3.9 3.9 0 1 0 -7.8 0M309.10 325.6a3.9 3.9 0 1 0 7.8 0a3.9 3.9 0 1 0 -7.8 0M375.50 324.4a3.9 3.9 0 1 0 7.8 0a3.9 3.9 0 1 0 -7.8 0M405.10 381.0a3.9 3.9 0 1 0 7.8 0a3.9 3.9 0 1 0 -7.8 0M328.60 400.5a3.9 3.9 0 1 0 7.8 0a3.9 3.9 0 1 0 -7.8 0M322.60 415.7a3.9 3.9 0 1 0 7.8 0a3.9 3.9 0 1 0 -7.8 0M321.40 422.0a3.9 3.9 0 1 0 7.8 0a3.9 3.9 0 1 0 -7.8 0M372.70 419.5a3.9 3.9 0 1 0 7.8 0a3.9 3.9 0 1 0 -7.8 0M433.50 308.0a3.9 3.9 0 1 0 7.8 0a3.9 3.9 0 1 0 -7.8 0M469.10 334.0a3.9 3.9 0 1 0 7.8 0a3.9 3.9 0 1 0 -7.8 0M510.10 333.6a3.9 3.9 0 1 0 7.8 0a3.9 3.9 0 1 0 -7.8 0M452.70 350.4a3.9 3.9 0 1 0 7.8 0a3.9 3.9 0 1 0 -7.8 0M514.70 349.4a3.9 3.9 0 1 0 7.8 0a3.9 3.9 0 1 0 -7.8 0M510.50 360.0a3.9 3.9 0 1 0 7.8 0a3.9 3.9 0 1 0 -7.8 0M436.70 402.6a3.9 3.9 0 1 0 7.8 0a3.9 3.9 0 1 0 -7.8 0M418.80 410.4a3.9 3.9 0 1 0 7.8 0a3.9 3.9 0 1 0 -7.8 0M541.10 309.4a3.9 3.9 0 1 0 7.8 0a3.9 3.9 0 1 0 -7.8 0M543.50 316.0a3.9 3.9 0 1 0 7.8 0a3.9 3.9 0 1 0 -7.8 0M598.50 309.0a3.9 3.9 0 1 0 7.8 0a3.9 3.9 0 1 0 -7.8 0M579.50 326.0a3.9 3.9 0 1 0 7.8 0a3.9 3.9 0 1 0 -7.8 0M611.10 324.6a3.9 3.9 0 1 0 7.8 0a3.9 3.9 0 1 0 -7.8 0M632.50 334.4a3.9 3.9 0 1 0 7.8 0a3.9 3.9 0 1 0 -7.8 0M625.10 343.6a3.9 3.9 0 1 0 7.8 0a3.9 3.9 0 1 0 -7.8 0M589.70 345.6a3.9 3.9 0 1 0 7.8 0a3.9 3.9 0 1 0 -7.8 0M600.70 351.0a3.9 3.9 0 1 0 7.8 0a3.9 3.9 0 1 0 -7.8 0M543.10 369.0a3.9 3.9 0 1 0 7.8 0a3.9 3.9 0 1 0 -7.8 0M550.70 391.0a3.9 3.9 0 1 0 7.8 0a3.9 3.9 0 1 0 -7.8 0M597.10 410.0a3.9 3.9 0 1 0 7.8 0a3.9 3.9 0 1 0 -7.8 0M285.60 428.0a3.9 3.9 0 1 0 7.8 0a3.9 3.9 0 1 0 -7.8 0M218.50 448.4a3.9 3.9 0 1 0 7.8 0a3.9 3.9 0 1 0 -7.8 0M235.10 454.0a3.9 3.9 0 1 0 7.8 0a3.9 3.9 0 1 0 -7.8 0M256.50 456.6a3.9 3.9 0 1 0 7.8 0a3.9 3.9 0 1 0 -7.8 0M258.10 469.4a3.9 3.9 0 1 0 7.8 0a3.9 3.9 0 1 0 -7.8 0M224.70 480.0a3.9 3.9 0 1 0 7.8 0a3.9 3.9 0 1 0 -7.8 0M348.50 450.0a3.9 3.9 0 1 0 7.8 0a3.9 3.9 0 1 0 -7.8 0M363.10 450.4a3.9 3.9 0 1 0 7.8 0a3.9 3.9 0 1 0 -7.8 0M297.50 481.0a3.9 3.9 0 1 0 7.8 0a3.9 3.9 0 1 0 -7.8 0M401.80 495.7a3.9 3.9 0 1 0 7.8 0a3.9 3.9 0 1 0 -7.8 0M405.40 495.7a3.9 3.9 0 1 0 7.8 0a3.9 3.9 0 1 0 -7.8 0M413.80 504.0a3.9 3.9 0 1 0 7.8 0a3.9 3.9 0 1 0 -7.8 0M387.50 522.4a3.9 3.9 0 1 0 7.8 0a3.9 3.9 0 1 0 -7.8 0M372.10 527.0a3.9 3.9 0 1 0 7.8 0a3.9 3.9 0 1 0 -7.8 0M435.70 434.0a3.9 3.9 0 1 0 7.8 0a3.9 3.9 0 1 0 -7.8 0M446.50 436.4a3.9 3.9 0 1 0 7.8 0a3.9 3.9 0 1 0 -7.8 0M436.10 448.4a3.9 3.9 0 1 0 7.8 0a3.9 3.9 0 1 0 -7.8 0M429.10 456.0a3.9 3.9 0 1 0 7.8 0a3.9 3.9 0 1 0 -7.8 0M474.10 483.4a3.9 3.9 0 1 0 7.8 0a3.9 3.9 0 1 0 -7.8 0M476.50 486.6a3.9 3.9 0 1 0 7.8 0a3.9 3.9 0 1 0 -7.8 0M441.10 491.4a3.9 3.9 0 1 0 7.8 0a3.9 3.9 0 1 0 -7.8 0M512.70 506.4a3.9 3.9 0 1 0 7.8 0a3.9 3.9 0 1 0 -7.8 0M437.30 519.0a3.9 3.9 0 1 0 7.8 0a3.9 3.9 0 1 0 -7.8 0M444.60 530.2a3.9 3.9 0 1 0 7.8 0a3.9 3.9 0 1 0 -7.8 0M502.70 531.4a3.9 3.9 0 1 0 7.8 0a3.9 3.9 0 1 0 -7.8 0M625.10 432.6a3.9 3.9 0 1 0 7.8 0a3.9 3.9 0 1 0 -7.8 0M632.10 430.0a3.9 3.9 0 1 0 7.8 0a3.9 3.9 0 1 0 -7.8 0M573.10 432.6a3.9 3.9 0 1 0 7.8 0a3.9 3.9 0 1 0 -7.8 0M582.10 450.0a3.9 3.9 0 1 0 7.8 0a3.9 3.9 0 1 0 -7.8 0M588.50 469.0a3.9 3.9 0 1 0 7.8 0a3.9 3.9 0 1 0 -7.8 0M565.70 485.0a3.9 3.9 0 1 0 7.8 0a3.9 3.9 0 1 0 -7.8 0M606.10 488.4a3.9 3.9 0 1 0 7.8 0a3.9 3.9 0 1 0 -7.8 0M596.50 517.4a3.9 3.9 0 1 0 7.8 0a3.9 3.9 0 1 0 -7.8 0M578.10 519.4a3.9 3.9 0 1 0 7.8 0a3.9 3.9 0 1 0 -7.8 0M564.70 523.4a3.9 3.9 0 1 0 7.8 0a3.9 3.9 0 1 0 -7.8 0M556.50 528.4a3.9 3.9 0 1 0 7.8 0a3.9 3.9 0 1 0 -7.8 0M549.10 536.0a3.9 3.9 0 1 0 7.8 0a3.9 3.9 0 1 0 -7.8 0" fill="none" stroke="#f00" stroke-width="1.5"/><path d="M279.70 68.6a3.9 3.9 0 1 0 7.8 0a3.9 3.9 0 1 0 -7.8 0M200.10 86.0a3.9 3.9 0 1 0 7.8 0a3.9 3.9 0 1 0 -7.8 0M246.70 87.4a3.9 3.9 0 1 0 7.8 0a3.9 3.9 0 1 0 -7.8 0M181.85 104.5a3.9 3.9 0 1 0 7.8 0a3.9 3.9 0 1 0 -7.8 0M265.50 105.4a3.9 3.9 0 1 0 7.8 0a3.9 3.9 0 1 0 -7.8 0M261.50 161.6a3.9 3.9 0 1 0 7.8 0a3.9 3.9 0 1 0 -7.8 0M248.50 166.0a3.9 3.9 0 1 0 7.8 0a3.9 3.9 0 1 0 -7.8 0M169.50 168.6a3.9 3.9 0 1 0 7.8 0a3.9 3.9 0 1 0 -7.8 0M310.70 71.4a3.9 3.9 0 1 0 7.8 0a3.9 3.9 0 1 0 -7.8 0M362.70 65.4a3.9 3.9 0 1 0 7.8 0a3.9 3.9 0 1 0 -7.8 0M294.50 82.6a3.9 3.9 0 1 0 7.8 0a3.9 3.9 0 1 0 -7.8 0M348.10 89.0a3.9 3.9 0 1 0 7.8 0a3.9 3.9 0 1 0 -7.8 0M391.60 116.3a3.9 3.9 0 1 0 7.8 0a3.9 3.9 0 1 0 -7.8 0M295.10 124.4a3.9 3.9 0 1 0 7.8 0a3.9 3.9 0 1 0 -7.8 0M330.70 125.6a3.9 3.9 0 1 0 7.8 0a3.9 3.9 0 1 0 -7.8 0M366.10 127.6a3.9 3.9 0 1 0 7.8 0a3.9 3.9 0 1 0 -7.8 0M382.50 139.5a3.9 3.9 0 1 0 7.8 0a3.9 3.9 0 1 0 -7.8 0M388.70 139.5a3.9 3.9 0 1 0 7.8 0a3.9 3.9 0 1 0 -7.8 0M330.50 172.4a3.9 3.9 0 1 0 7.8 0a3.9 3.9 0 1 0 -7.8 0M464.10 61.5a3.9 3.9 0 1 0 7.8 0a3.9 3.9 0 1 0 -7.8 0M429.10 69.4a3.9 3.9 0 1 0 7.8 0a3.9 3.9 0 1 0 -7.8 0M496.10 126.6a3.9 3.9 0 1 0 7.8 0a3.9 3.9 0 1 0 -7.8 0M452.70 159.0a3.9 3.9 0 1 0 7.8 0a3.9 3.9 0 1 0 -7.8 0M426.50 170.0a3.9 3.9 0 1 0 7.8 0a3.9 3.9 0 1 0 -7.8 0M418.70 176.4a3.9 3.9 0 1 0 7.8 0a3.9 3.9 0 1 0 -7.8 0M499.70 176.4a3.9 3.9 0 1 0 7.8 0a3.9 3.9 0 1 0 -7.8 0M574.50 101.0a3.9 3.9 0 1 0 7.8 0a3.9 3.9 0 1 0 -7.8 0M542.80 119.1a3.9 3.9 0 1 0 7.8 0a3.9 3.9 0 1 0 -7.8 0M608.50 118.0a3.9 3.9 0 1 0 7.8 0a3.9 3.9 0 1 0 -7.8 0M602.70 138.0a3.9 3.9 0 1 0 7.8 0a3.9 3.9 0 1 0 -7.8 0M627.70 144.6a3.9 3.9 0 1 0 7.8 0a3.9 3.9 0 1 0 -7.8 0M634.70 158.6a3.9 3.9 0 1 0 7.8 0a3.9 3.9 0 1 0 -7.8 0M594.70 174.6a3.9 3.9 0 1 0 7.8 0a3.9 3.9 0 1 0 -7.8 0M244.10 194.6a3.9 3.9 0 1 0 7.8 0a3.9 3.9 0 1 0 -7.8 0M235.50 200.4a3.9 3.9 0 1 0 7.8 0a3.9 3.9 0 1 0 -7.8 0M175.50 221.4a3.9 3.9 0 1 0 7.8 0a3.9 3.9 0 1 0 -7.8 0M279.50 220.4a3.9 3.9 0 1 0 7.8 0a3.9 3.9 0 1 0 -7.8 0M180.10 236.6a3.9 3.9 0 1 0 7.8 0a3.9 3.9 0 1 0 -7.8 0M261.10 239.4a3.9 3.9 0 1 0 7.8 0a3.9 3.9 0 1 0 -7.8 0M277.10 240.4a3.9 3.9 0 1 0 7.8 0a3.9 3.9 0 1 0 -7.8 0M227.50 247.0a3.9 3.9 0 1 0 7.8 0a3.9 3.9 0 1 0 -7.8 0M230.10 256.4a3.9 3.9 0 1 0 7.8 0a3.9 3.9 0 1 0 -7.8 0M168.10 255.6a3.9 3.9 0 1 0 7.8 0a3.9 3.9 0 1 0 -7.8 0M299.50 203.4a3.9 3.9 0 1 0 7.8 0a3.9 3.9 0 1 0 -7.8 0M366.10 209.6a3.9 3.9 0 1 0 7.8 0a3.9 3.9 0 1 0 -7.8 0M371.70 229.4a3.9 3.9 0 1 0 7.8 0a3.9 3.9 0 1 0 -7.8 0M342.50 299.5a3.9 3.9 0 1 0 7.8 0a3.9 3.9 0 1 0 -7.8 0M411.50 215.0a3.9 3.9 0 1 0 7.8 0a3.9 3.9 0 1 0 -7.8 0M436.50 245.0a3.9 3.9 0 1 0 7.8 0a3.9 3.9 0 1 0 -7.8 0M479.10 243.6a3.9 3.9 0 1 0 7.8 0a3.9 3.9 0 1 0 -7.8 0M442.70 265.4a3.9 3.9 0 1 0 7.8 0a3.9 3.9 0 1 0 -7.8 0M463.50 266.2a3.9 3.9 0 1 0 7.8 0a3.9 3.9 0 1 0 -7.8 0M492.70 267.6a3.9 3.9 0 1 0 7.8 0a3.9 3.9 0 1 0 -7.8 0M521.10 274.4a3.9 3.9 0 1 0 7.8 0a3.9 3.9 0 1 0 -7.8 0M477.70 284.0a3.9 3.9 0 1 0 7.8 0a3.9 3.9 0 1 0 -7.8 0M474.70 299.5a3.9 3.9 0 1 0 7.8 0a3.9 3.9 0 1 0 -7.8 0M616.50 204.6a3.9 3.9 0 1 0 7.8 0a3.9 3.9 0 1 0 -7.8 0M609.70 211.4a3.9 3.9 0 1 0 7.8 0a3.9 3.9 0 1 0 -7.8 0M589.50 216.0a3.9 3.9 0 1 0 7.8 0a3.9 3.9 0 1 0 -7.8 0M563.10 224.0a3.9 3.9 0 1 0 7.8 0a3.9 3.9 0 1 0 -7.8 0M561.70 236.6a3.9 3.9 0 1 0 7.8 0a3.9 3.9 0 1 0 -7.8 0M554.10 263.4a3.9 3.9 0 1 0 7.8 0a3.9 3.9 0 1 0 -7.8 0M595.50 266.0a3.9 3.9 0 1 0 7.8 0a3.9 3.9 0 1 0 -7.8 0M590.10 273.0a3.9 3.9 0 1 0 7.8 0a3.9 3.9 0 1 0 -7.8 0M609.10 285.0a3.9 3.9 0 1 0 7.8 0a3.9 3.9 0 1 0 -7.8 0M543.50 294.0a3.9 3.9 0 1 0 7.8 0a3.9 3.9 0 1 0 -7.8 0M238.10 329.0a3.9 3.9 0 1 0 7.8 0a3.9 3.9 0 1 0 -7.8 0M212.50 362.0a3.9 3.9 0 1 0 7.8 0a3.9 3.9 0 1 0 -7.8 0M199.50 390.4a3.9 3.9 0 1 0 7.8 0a3.9 3.9 0 1 0 -7.8 0M235.50 386.0a3.9 3.9 0 1 0 7.8 0a3.9 3.9 0 1 0 -7.8 0M324.50 307.0a3.9 3.9 0 1 0 7.8 0a3.9 3.9 0 1 0 -7.8 0M399.50 304.4a3.9 3.9 0 1 0 7.8 0a3.9 3.9 0 1 0 -7.8 0M359.50 334.4a3.9 3.9 0 1 0 7.8 0a3.9 3.9 0 1 0 -7.8 0M326.50 363.0a3.9 3.9 0 1 0 7.8 0a3.9 3.9 0 1 0 -7.8 0M324.50 368.4a3.9 3.9 0 1 0 7.8 0a3.9 3.9 0 1 0 -7.8 0M297.70 409.6a3.9 3.9 0 1 0 7.8 0a3.9 3.9 0 1 0 -7.8 0M489.50 307.6a3.9 3.9 0 1 0 7.8 0a3.9 3.9 0 1 0 -7.8 0M500.10 307.4a3.9 3.9 0 1 0 7.8 0a3.9 3.9 0 1 0 -7.8 0M466.50 330.4a3.9 3.9 0 1 0 7.8 0a3.9 3.9 0 1 0 -7.8 0M442.50 343.6a3.9 3.9 0 1 0 7.8 0a3.9 3.9 0 1 0 -7.8 0M463.50 349.0a3.9 3.9 0 1 0 7.8 0a3.9 3.9 0 1 0 -7.8 0M486.50 339.4a3.9 3.9 0 1 0 7.8 0a3.9 3.9 0 1 0 -7.8 0M429.70 366.6a3.9 3.9 0 1 0 7.8 0a3.9 3.9 0 1 0 -7.8 0M461.50 385.6a3.9 3.9 0 1 0 7.8 0a3.9 3.9 0 1 0 -7.8 0M504.10 395.4a3.9 3.9 0 1 0 7.8 0a3.9 3.9 0 1 0 -7.8 0M635.70 315.0a3.9 3.9 0 1 0 7.8 0a3.9 3.9 0 1 0 -7.8 0M645.10 313.0a3.9 3.9 0 1 0 7.8 0a3.9 3.9 0 1 0 -7.8 0M550.70 332.4a3.9 3.9 0 1 0 7.8 0a3.9 3.9 0 1 0 -7.8 0M564.50 336.0a3.9 3.9 0 1 0 7.8 0a3.9 3.9 0 1 0 -7.8 0M589.70 331.4a3.9 3.9 0 1 0 7.8 0a3.9 3.9 0 1 0 -7.8 0M627.10 327.4a3.9 3.9 0 1 0 7.8 0a3.9 3.9 0 1 0 -7.8 0M573.10 384.0a3.9 3.9 0 1 0 7.8 0a3.9 3.9 0 1 0 -7.8 0M589.50 382.0a3.9 3.9 0 1 0 7.8 0a3.9 3.9 0 1 0 -7.8 0M242.10 445.0a3.9 3.9 0 1 0 7.8 0a3.9 3.9 0 1 0 -7.8 0M244.70 447.4a3.9 3.9 0 1 0 7.8 0a3.9 3.9 0 1 0 -7.8 0M274.50 442.6a3.9 3.9 0 1 0 7.8 0a3.9 3.9 0 1 0 -7.8 0M279.10 480.4a3.9 3.9 0 1 0 7.8 0a3.9 3.9 0 1 0 -7.8 0M277.10 487.4a3.9 3.9 0 1 0 7.8 0a3.9 3.9 0 1 0 -7.8 0M244.10 503.4a3.9 3.9 0 1 0 7.8 0a3.9 3.9 0 1 0 -7.8 0M333.60 432.3a3.9 3.9 0 1 0 7.8 0a3.9 3.9 0 1 0 -7.8 0M366.10 427.6a3.9 3.9 0 1 0 7.8 0a3.9 3.9 0 1 0 -7.8 0M397.70 426.4a3.9 3.9 0 1 0 7.8 0a3.9 3.9 0 1 0 -7.8 0M380.50 436.5a3.9 3.9 0 1 0 7.8 0a3.9 3.9 0 1 0 -7.8 0M299.10 458.5a3.9 3.9 0 1 0 7.8 0a3.9 3.9 0 1 0 -7.8 0M403.60 483.3a3.9 3.9 0 1 0 7.8 0a3.9 3.9 0 1 0 -7.8 0M325.70 511.6a3.9 3.9 0 1 0 7.8 0a3.9 3.9 0 1 0 -7.8 0M359.50 540.0a3.9 3.9 0 1 0 7.8 0a3.9 3.9 0 1 0 -7.8 0M465.50 436.4a3.9 3.9 0 1 0 7.8 0a3.9 3.9 0 1 0 -7.8 0M482.50 452.6a3.9 3.9 0 1 0 7.8 0a3.9 3.9 0 1 0 -7.8 0M419.50 465.6a3.9 3.9 0 1 0 7.8 0a3.9 3.9 0 1 0 -7.8 0M442.70 474.6a3.9 3.9 0 1 0 7.8 0a3.9 3.9 0 1 0 -7.8 0M495.10 482.0a3.9 3.9 0 1 0 7.8 0a3.9 3.9 0 1 0 -7.8 0M502.70 480.4a3.9 3.9 0 1 0 7.8 0a3.9 3.9 0 1 0 -7.8 0M427.60 530.2a3.9 3.9 0 1 0 7.8 0a3.9 3.9 0 1 0 -7.8 0M612.10 425.6a3.9 3.9 0 1 0 7.8 0a3.9 3.9 0 1 0 -7.8 0M567.70 431.6a3.9 3.9 0 1 0 7.8 0a3.9 3.9 0 1 0 -7.8 0M532.70 462.0a3.9 3.9 0 1 0 7.8 0a3.9 3.9 0 1 0 -7.8 0M563.70 470.4a3.9 3.9 0 1 0 7.8 0a3.9 3.9 0 1 0 -7.8 0M573.10 504.6a3.9 3.9 0 1 0 7.8 0a3.9 3.9 0 1 0 -7.8 0M557.70 508.6a3.9 3.9 0 1 0 7.8 0a3.9 3.9 0 1 0 -7.8 0M582.50 532.3a3.9 3.9 0 1 0 7.8 0a3.9 3.9 0 1 0 -7.8 0" fill="none" stroke="#ffc0cb" stroke-width="1.5"/><path d="M435.10 543.5a3.9 3.9 0 1 0 7.8 0a3.9 3.9 0 1 0 -7.8 0" fill="none" stroke="#ffc0cb" stroke-width="1.5"/><path d="M595.70 119.0a3.9 3.9 0 1 0 7.8 0a3.9 3.9 0 1 0 -7.8 0M635.60 201.0a3.9 3.9 0 1 0 7.8 0a3.9 3.9 0 1 0 -7.8 0M172.10 378.4a3.9 3.9 0 1 0 7.8 0a3.9 3.9 0 1 0 -7.8 0M196.50 408.6a3.9 3.9 0 1 0 7.8 0a3.9 3.9 0 1 0 -7.8 0M303.70 389.6a3.9 3.9 0 1 0 7.8 0a3.9 3.9 0 1 0 -7.8 0M498.50 388.0a3.9 3.9 0 1 0 7.8 0a3.9 3.9 0 1 0 -7.8 0M420.40 419.3a3.9 3.9 0 1 0 7.8 0a3.9 3.9 0 1 0 -7.8 0M606.10 314.0a3.9 3.9 0 1 0 7.8 0a3.9 3.9 0 1 0 -7.8 0M448.10 447.0a3.9 3.9 0 1 0 7.8 0a3.9 3.9 0 1 0 -7.8 0M498.10 510.4a3.9 3.9 0 1 0 7.8 0a3.9 3.9 0 1 0 -7.8 0" fill="none" stroke="#00f" stroke-width="1.75"/><path d="M199.70 123.5a3.9 3.9 0 1 0 7.8 0a3.9 3.9 0 1 0 -7.8 0M379.10 81.0a3.9 3.9 0 1 0 7.8 0a3.9 3.9 0 1 0 -7.8 0M327.70 106.0a3.9 3.9 0 1 0 7.8 0a3.9 3.9 0 1 0 -7.8 0M395.00 130.4a3.9 3.9 0 1 0 7.8 0a3.9 3.9 0 1 0 -7.8 0M465.40 83.8a3.9 3.9 0 1 0 7.8 0a3.9 3.9 0 1 0 -7.8 0M477.10 83.8a3.9 3.9 0 1 0 7.8 0a3.9 3.9 0 1 0 -7.8 0M200.70 237.6a3.9 3.9 0 1 0 7.8 0a3.9 3.9 0 1 0 -7.8 0M441.70 255.0a3.9 3.9 0 1 0 7.8 0a3.9 3.9 0 1 0 -7.8 0M191.10 323.6a3.9 3.9 0 1 0 7.8 0a3.9 3.9 0 1 0 -7.8 0M186.70 386.6a3.9 3.9 0 1 0 7.8 0a3.9 3.9 0 1 0 -7.8 0M257.10 419.5a3.9 3.9 0 1 0 7.8 0a3.9 3.9 0 1 0 -7.8 0M472.10 306.4a3.9 3.9 0 1 0 7.8 0a3.9 3.9 0 1 0 -7.8 0M409.10 355.5a3.9 3.9 0 1 0 7.8 0a3.9 3.9 0 1 0 -7.8 0M228.10 435.0a3.9 3.9 0 1 0 7.8 0a3.9 3.9 0 1 0 -7.8 0M198.50 454.4a3.9 3.9 0 1 0 7.8 0a3.9 3.9 0 1 0 -7.8 0M323.40 430.3a3.9 3.9 0 1 0 7.8 0a3.9 3.9 0 1 0 -7.8 0M323.80 437.7a3.9 3.9 0 1 0 7.8 0a3.9 3.9 0 1 0 -7.8 0M318.70 492.6a3.9 3.9 0 1 0 7.8 0a3.9 3.9 0 1 0 -7.8 0" fill="none" stroke="#00f" stroke-width="1.75"/><path d="M200.20 124.00h8.0M204.20 120.00v8.0M379.60 81.50h8.0M383.60 77.50v8.0M328.20 106.50h8.0M332.20 102.50v8.0M395.50 130.90h8.0M399.50 126.90v8.0M465.90 84.30h8.0M469.90 80.30v8.0M477.60 84.30h8.0M481.60 80.30v8.0M212.40 194.40h8.0M216.40 190.40v8.0M201.20 238.10h8.0M205.20 234.10v8.0M442.20 255.50h8.0M446.20 251.50v8.0M191.60 324.10h8.0M195.60 320.10v8.0M187.20 387.10h8.0M191.20 383.10v8.0M257.60 420.00h8.0M261.60 416.00v8.0M472.60 306.90h8.0M476.60 302.90v8.0M409.60 356.00h8.0M413.60 352.00v8.0M228.60 435.50h8.0M232.60 431.50v8.0M199.00 454.90h8.0M203.00 450.90v8.0M323.90 430.80h8.0M327.90 426.80v8.0M324.30 438.20h8.0M328.30 434.20v8.0M319.20 493.10h8.0M323.20 489.10v8.0M515.40 493.00h8.0M519.40 489.00v8.0M435.00 543.50h8.0M439.00 539.50v8.0" stroke="#008000" stroke-width="1.2" fill="none"/><polygon points="312.50,55.60 313.62,58.66 316.87,58.78 314.31,60.79 315.20,63.92 312.50,62.10 309.80,63.92 310.69,60.79 308.13,58.78 311.38,58.66" fill="#ff0" stroke="#ff0" stroke-width="0.5"/><polygon points="294.50,453.40 295.62,456.46 298.87,456.58 296.31,458.59 297.20,461.72 294.50,459.90 291.80,461.72 292.69,458.59 290.13,456.58 293.38,456.46" fill="#ff0" stroke="#ff0" stroke-width="0.5"/><polygon points="628.60,451.40 629.72,454.46 632.97,454.58 630.41,456.59 631.30,459.72 628.60,457.90 625.90,459.72 626.79,456.59 624.23,454.58 627.48,454.46" fill="#ff0" stroke="#ff0" stroke-width="0.5"/>
</g>
<path d="M172.50 540v-5M191.50 540v-5M209.50 540v-5M227.50 540v-10M245.50 540v-5M263.50 540v-5M282.50 540v-5M300.50 540v-5M318.50 540v-10M336.50 540v-5M355.50 540v-5M373.50 540v-5M391.50 540v-5M410.50 540v-10M428.50 540v-5M446.50 540v-5M464.50 540v-5M483.50 540v-5M501.50 540v-10M519.50 540v-5M537.50 540v-5M556.50 540v-5M574.50 540v-5M592.50 540v-10M610.50 540v-5M629.50 540v-5M647.50 540v-5M172.50 60v5M190.50 60v5M209.50 60v5M227.50 60v10M245.50 60v5M264.50 60v5M282.50 60v5M301.50 60v5M319.50 60v10M337.50 60v5M355.50 60v5M374.50 60v5M392.50 60v5M410.50 60v10M428.50 60v5M447.50 60v5M465.50 60v5M483.50 60v5M501.50 60v10M520.50 60v5M538.50 60v5M556.50 60v5M574.50 60v5M593.50 60v10M611.50 60v5M629.50 60v5M647.50 60v5M171 73.50h5M171 94.50h10M171 115.50h5M171 135.50h5M171 156.50h5M171 176.50h5M171 197.50h10M171 218.50h5M171 238.50h5M171 259.50h5M171 279.50h5M171 300.50h10M171 321.50h5M171 341.50h5M171 362.50h5M171 382.50h5M171 403.50h10M171 423.50h5M171 444.50h5M171 464.50h5M171 485.50h5M171 505.50h10M171 525.50h5M650 74.50h-5M650 95.50h-10M650 116.50h-5M650 136.50h-5M650 157.50h-5M650 177.50h-5M650 198.50h-10M650 219.50h-5M650 239.50h-5M650 260.50h-5M650 280.50h-5M650 301.50h-10M650 322.50h-5M650 342.50h-5M650 363.50h-5M650 383.50h-5M650 404.50h-10M650 424.50h-5M650 445.50h-5M650 465.50h-5M650 486.50h-5M650 506.50h-10M650 526.50h-5" stroke="#e8e8e8" stroke-width="1" fill="none"/>
<rect x="171.5" y="60.5" width="478" height="480" fill="none" stroke="#000" stroke-width="1.2"/>
<g font-family="Liberation Sans, sans-serif" font-size="16.67" fill="#000" style="will-change:transform"><text transform="translate(165.50,98.20) scale(1.035,1.08)" text-anchor="end">-26.8000<tspan font-size="11.5" dy="-3.6">°</tspan></text><text transform="translate(165.50,201.20) scale(1.035,1.08)" text-anchor="end">-26.9000<tspan font-size="11.5" dy="-3.6">°</tspan></text><text transform="translate(165.50,304.20) scale(1.035,1.08)" text-anchor="end">-27.0000<tspan font-size="11.5" dy="-3.6">°</tspan></text><text transform="translate(165.50,407.20) scale(1.035,1.08)" text-anchor="end">-27.1000<tspan font-size="11.5" dy="-3.6">°</tspan></text><text transform="translate(165.50,509.20) scale(1.035,1.08)" text-anchor="end">-27.2000<tspan font-size="11.5" dy="-3.6">°</tspan></text><text transform="translate(227.50,557.80) scale(1.035,1.08)" text-anchor="middle">28.2000<tspan font-size="11.5" dy="-3.6">°</tspan></text><text transform="translate(318.50,557.80) scale(1.035,1.08)" text-anchor="middle">28.1000<tspan font-size="11.5" dy="-3.6">°</tspan></text><text transform="translate(410.00,557.80) scale(1.035,1.08)" text-anchor="middle">28.0000<tspan font-size="11.5" dy="-3.6">°</tspan></text><text transform="translate(501.25,557.80) scale(1.035,1.08)" text-anchor="middle">27.9000<tspan font-size="11.5" dy="-3.6">°</tspan></text><text transform="translate(592.50,557.80) scale(1.035,1.08)" text-anchor="middle">27.8000<tspan font-size="11.5" dy="-3.6">°</tspan></text><text x="410.5" y="578.8" text-anchor="middle" font-size="17.0" word-spacing="2">RA (J2000)</text><text transform="translate(82.9,300) rotate(-90)" x="0" y="0" text-anchor="middle" font-size="17.0" word-spacing="2">Dec (J2000)</text></g>
</svg>
</body></html>
